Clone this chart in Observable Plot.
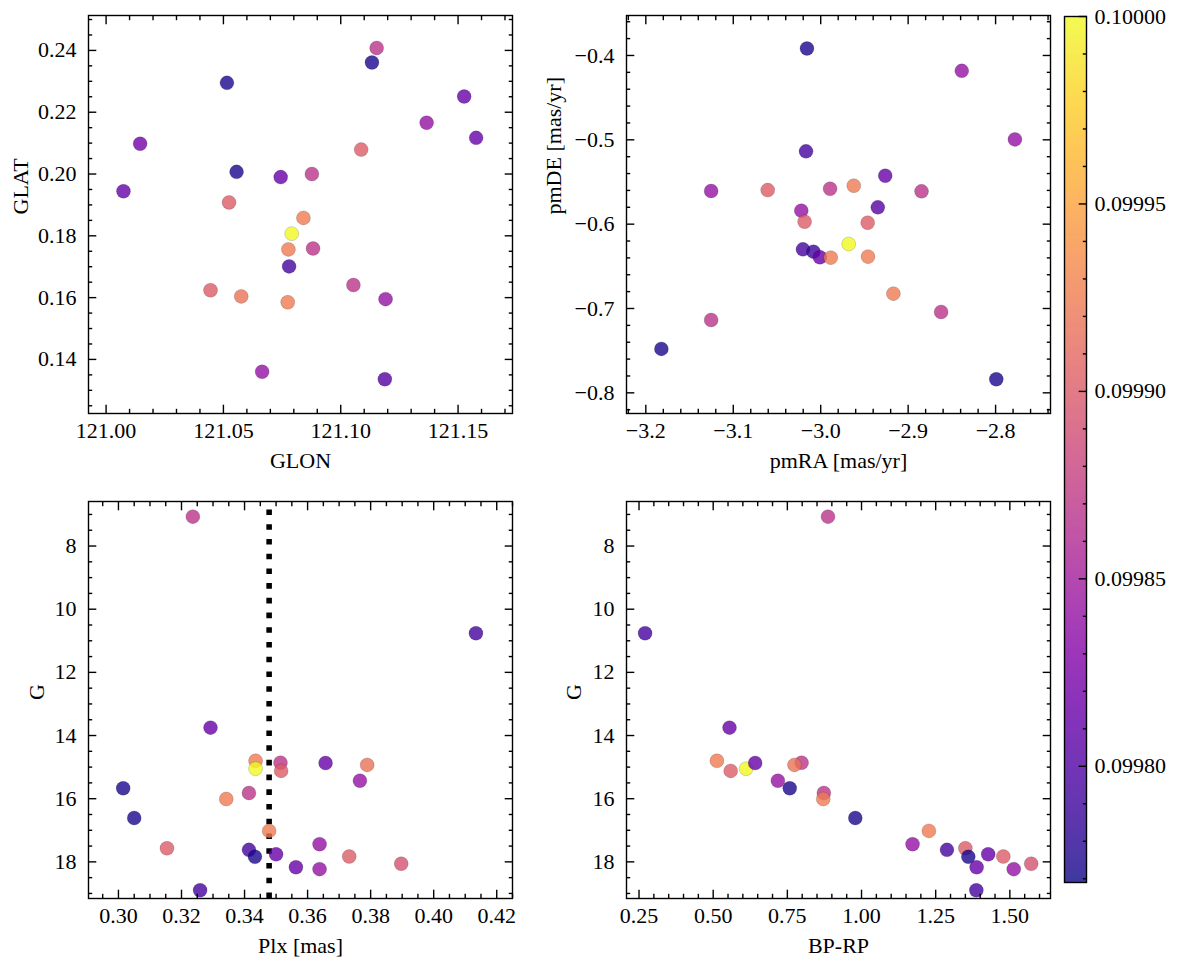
<!DOCTYPE html>
<html><head><meta charset="utf-8">
<script src="https://cdn.jsdelivr.net/npm/d3@7"></script>
<script src="https://cdn.jsdelivr.net/npm/@observablehq/plot@0.6"></script>
<style>
html,body{margin:0;padding:0;background:#fff;}
#fig{position:relative;width:1177px;height:965px;font-family:"Liberation Serif",serif;}
#fig svg{position:absolute;overflow:visible;}
#fig svg text{font-family:"Liberation Serif","DejaVu Serif",serif !important;}
</style></head><body><div id="fig"></div>
<script>
// ---- colour (membership probability) range ----
const vmin = 0.099769, vmax = 0.100000;

// ---- panel 1: sky positions ----
const glon = [121.1153,121.1133,121.0515,121.1526,121.1366,121.1577,121.0145,121.1087,121.0074,121.0556,121.0744,121.0877,121.0524,121.0841,121.0791,121.0777,121.0882,121.0780,121.1054,121.0445,121.0576,121.0774,121.1191,121.0665,121.1188];
const glat = [0.2408,0.2361,0.2295,0.2251,0.2166,0.2117,0.2098,0.2079,0.1944,0.2007,0.1990,0.2000,0.1908,0.1858,0.1807,0.1756,0.1759,0.1701,0.1641,0.1624,0.1604,0.1585,0.1595,0.1360,0.1336];
const probSky = [0.099869,0.099773,0.099773,0.099813,0.099841,0.099813,0.099820,0.099902,0.099813,0.099773,0.099813,0.099869,0.099902,0.099925,0.100000,0.099925,0.099869,0.099794,0.099869,0.099902,0.099918,0.099925,0.099841,0.099841,0.099805];

// ---- panel 2: proper motions ----
const pmra = [-3.0157,-2.8387,-2.7779,-3.0168,-2.9262,-3.1253,-3.0606,-2.9893,-2.9622,-2.8847,-2.9347,-3.0222,-3.0184,-2.9463,-2.9680,-3.0203,-3.0083,-3.0009,-2.9885,-2.9459,-2.9169,-3.1253,-2.8623,-3.1822,-2.7992];
const pmde = [-0.3917,-0.4182,-0.4995,-0.5137,-0.5426,-0.5607,-0.5596,-0.5580,-0.5544,-0.5611,-0.5801,-0.5840,-0.5971,-0.5983,-0.6235,-0.6299,-0.6326,-0.6393,-0.6397,-0.6385,-0.6824,-0.7136,-0.7041,-0.7479,-0.7839];
const probPM = [0.099773,0.099841,0.099841,0.099794,0.099813,0.099841,0.099902,0.099869,0.099925,0.099869,0.099805,0.099841,0.099902,0.099902,0.100000,0.099794,0.099788,0.099813,0.099925,0.099925,0.099925,0.099869,0.099869,0.099773,0.099773];

// ---- panels 3 & 4: photometry ----
const plx  = [0.3236,0.4134,0.3292,0.3435,0.3435,0.3514,0.3516,0.3657,0.3789,0.3766,0.3015,0.3414,0.3342,0.3050,0.3478,0.3154,0.3638,0.3414,0.3433,0.3500,0.3732,0.3563,0.3638,0.3897,0.3259];
const gmag = [7.07,10.76,13.75,14.80,15.05,14.86,15.12,14.87,14.93,15.43,15.67,15.82,16.01,16.61,17.02,17.57,17.44,17.62,17.84,17.76,17.83,18.17,18.23,18.06,18.90];
const bprp = [0.887,0.2705,0.555,0.5126,0.611,0.798,0.559,0.6416,0.774,0.718,0.758,0.873,0.871,0.979,1.227,1.350,1.172,1.288,1.360,1.427,1.478,1.388,1.513,1.572,1.387];
const probPhot = [0.099869,0.099794,0.099813,0.099925,0.100000,0.099869,0.099902,0.099813,0.099918,0.099841,0.099773,0.099869,0.099925,0.099773,0.099925,0.099902,0.099841,0.099794,0.099773,0.099813,0.099902,0.099813,0.099841,0.099892,0.099794];
const plxRef = 0.3478;

// ---- axes: domains and tick labels ----
const glonDomain = [120.9925, 121.1732], glatDomain = [0.1225, 0.2513];
const pmraDomain = [-3.2221, -2.7372], pmdeDomain = [-0.8245, -0.3526];
const plxDomain = [0.2905, 0.4250], bprpDomain = [0.2078, 1.6370], gDomain = [6.59, 19.16];
const glonTicks = [121.00, 121.05, 121.10, 121.15];
const glatTicks = [0.14, 0.16, 0.18, 0.20, 0.22, 0.24];
const pmraTicks = [-3.2, -3.1, -3.0, -2.9, -2.8];
const pmdeTicks = [-0.8, -0.7, -0.6, -0.5, -0.4];
const plxTicks = [0.30, 0.32, 0.34, 0.36, 0.38, 0.40, 0.42];
const gTicks = [8, 10, 12, 14, 16, 18];
const bprpTicks = [0.25, 0.50, 0.75, 1.00, 1.25, 1.50];
const cbTicks = [0.09980, 0.09985, 0.09990, 0.09995, 0.10000];

const FONT = 22, LW = 1.4, MAJ = 8.3, MIN = 4.2;
const FAMILY = '"Liberation Serif", "DejaVu Serif", serif';

function minors(majors, step, domain) {
  const lo = Math.min(...domain), hi = Math.max(...domain);
  const out = [];
  for (let k = Math.ceil(lo / step - 1e-9); k * step <= hi + 1e-12; k++) {
    const v = k * step;
    if (!majors.some(m => Math.abs(m - v) < step * 1e-3)) out.push(v);
  }
  return out;
}
const fmt = n => d => d.toFixed(n).replace("-", "\u2212");
const txt = {fontSize: FONT, fontFamily: FAMILY, fontVariant: "normal", fill: "black"};

function axesMarks(o) {
  const xm = minors(o.xTicks, o.xStep, o.xDomain);
  const ym = minors(o.yTicks, o.yStep, o.yDomain);
  const tk = {fill: "none", stroke: "black", strokeWidth: LW, label: null};
  return [
    Plot.axisX(xm, {anchor: "bottom", tickSize: -MIN, ...tk}),
    Plot.axisX(xm, {anchor: "top", tickSize: -MIN, ...tk}),
    Plot.axisX(o.xTicks, {anchor: "bottom", tickSize: -MAJ, ...tk}),
    Plot.axisX(o.xTicks, {anchor: "top", tickSize: -MAJ, ...tk}),
    Plot.axisY(ym, {anchor: "left", tickSize: -MIN, ...tk}),
    Plot.axisY(ym, {anchor: "right", tickSize: -MIN, ...tk}),
    Plot.axisY(o.yTicks, {anchor: "left", tickSize: -MAJ, ...tk}),
    Plot.axisY(o.yTicks, {anchor: "right", tickSize: -MAJ, ...tk}),
    Plot.axisX(o.xTicks, {anchor: "bottom", tickSize: 0, tickPadding: 9, tickFormat: o.xFmt, label: null, ...txt}),
    Plot.axisY(o.yTicks, {anchor: "left", tickSize: 0, tickPadding: 12, tickFormat: o.yFmt, label: null, ...txt}),
    Plot.frame({stroke: "black", strokeWidth: LW}),
    Plot.text([o.xLabel], {text: d => d, frameAnchor: "bottom", dy: 47, lineAnchor: "middle", ...txt}),
    Plot.text([o.yLabel], {text: d => d, frameAnchor: "left", dx: o.yLabelDx, rotate: -90, lineAnchor: "middle", ...txt})
  ];
}

const colorScale = {type: "linear", scheme: "plasma", domain: [vmin, vmax]};
const dotStyle = {r: 7, fillOpacity: 0.8, stroke: "black", strokeOpacity: 0.3, strokeWidth: 0.5};

function panel(pos, o, extra) {
  const idx = d3.range(o.xs.length);
  const svg = Plot.plot({
    width: pos.w, height: pos.h,
    marginLeft: pos.ml, marginRight: pos.mr, marginTop: pos.mt, marginBottom: pos.mb,
    x: {domain: o.xDomain}, y: {domain: o.yDomain, reverse: !!o.yReverse},
    color: colorScale,
    style: {fontFamily: FAMILY, fontSize: FONT + "px", background: "transparent", color: "black"},
    marks: [
      ...(extra || []),
      Plot.dot(idx, {x: i => o.xs[i], y: i => o.ys[i], fill: i => o.c[i], ...dotStyle}),
      ...axesMarks(o)
    ]
  });
  svg.style.left = pos.x + "px"; svg.style.top = pos.y + "px";
  document.getElementById("fig").appendChild(svg);
}

panel({x: 0, y: 0, w: 520, h: 490, ml: 88, mr: 8, mt: 15, mb: 77},
  {xs: glon, ys: glat, c: probSky, xDomain: glonDomain, yDomain: glatDomain,
   xTicks: glonTicks, yTicks: glatTicks, xStep: 0.01, yStep: 0.005,
   xFmt: fmt(2), yFmt: fmt(2), xLabel: "GLON", yLabel: "GLAT", yLabelDx: -68});

panel({x: 530, y: 0, w: 530, h: 490, ml: 96, mr: 10, mt: 15, mb: 77},
  {xs: pmra, ys: pmde, c: probPM, xDomain: pmraDomain, yDomain: pmdeDomain,
   xTicks: pmraTicks, yTicks: pmdeTicks, xStep: 0.02, yStep: 0.02,
   xFmt: fmt(1), yFmt: fmt(1), xLabel: "pmRA [mas/yr]", yLabel: "pmDE [mas/yr]", yLabelDx: -73});

panel({x: 0, y: 490, w: 520, h: 475, ml: 88, mr: 8, mt: 11, mb: 67},
  {xs: plx, ys: gmag, c: probPhot, xDomain: plxDomain, yDomain: gDomain, yReverse: true,
   xTicks: plxTicks, yTicks: gTicks, xStep: 0.005, yStep: 0.5,
   xFmt: fmt(2), yFmt: d => String(d), xLabel: "Plx [mas]", yLabel: "G", yLabelDx: -52},
  [Plot.ruleX([plxRef], {y1: gDomain[1], y2: gDomain[0], stroke: "black", strokeWidth: 5.56, strokeDasharray: "5.56 9.17"})]);

panel({x: 530, y: 490, w: 530, h: 475, ml: 96, mr: 10, mt: 11, mb: 67},
  {xs: bprp, ys: gmag, c: probPhot, xDomain: bprpDomain, yDomain: gDomain, yReverse: true,
   xTicks: bprpTicks, yTicks: gTicks, xStep: 0.05, yStep: 0.5,
   xFmt: fmt(2), yFmt: d => String(d), xLabel: "BP-RP", yLabel: "G", yLabelDx: -53});

// ---- colour bar ----
(function () {
  const n = 400;
  const strips = d3.range(n).map(i => [vmin + (vmax - vmin) * i / n, vmin + (vmax - vmin) * (i + 1) / n]);
  const cbMinor = minors(cbTicks, 0.00001, [vmin, vmax]);
  const tk = {fill: "none", stroke: "black", strokeWidth: LW, label: null};
  const svg = Plot.plot({
    width: 122, height: 900, marginLeft: 9, marginRight: 91, marginTop: 16, marginBottom: 18,
    y: {domain: [vmin, vmax]}, color: colorScale,
    style: {fontFamily: FAMILY, fontSize: FONT + "px", background: "transparent", color: "black"},
    marks: [
      Plot.rect(strips, {y1: d => d[0], y2: d => d[1], fill: d => (d[0] + d[1]) / 2, fillOpacity: 0.8, shapeRendering: "crispEdges"}),
      Plot.axisY(cbMinor, {anchor: "right", tickSize: -MIN, ...tk}),
      Plot.axisY(cbTicks, {anchor: "right", tickSize: -MAJ, ...tk}),
      Plot.axisY(cbTicks, {anchor: "right", tickSize: 0, tickPadding: 8, tickFormat: d => d.toFixed(5), label: null, ...txt}),
      Plot.frame({stroke: "black", strokeWidth: LW})
    ]
  });
  svg.style.left = "1055px"; svg.style.top = "0px";
  document.getElementById("fig").appendChild(svg);
})();
</script></body></html>
